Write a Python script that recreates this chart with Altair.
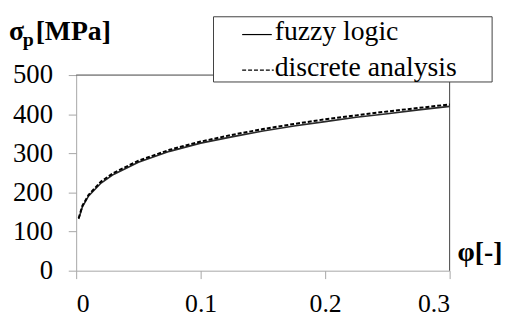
import altair as alt
import pandas as pd

# ---- data ----
phi = [0.002, 0.005, 0.01, 0.02, 0.03, 0.05, 0.075, 0.1, 0.125, 0.15,
       0.175, 0.2, 0.225, 0.25, 0.275, 0.3]
fuzzy = [132, 163, 191, 224, 246, 277, 305, 326, 342, 357,
         370, 381, 392, 401, 411, 420]
discrete = [134, 166, 194, 228, 250, 281, 309, 330, 347, 362,
            375, 387, 397, 407, 416, 425]
series_names = ["fuzzy logic", "discrete analysis"]
x_ticks = [0, 0.1, 0.2, 0.3]
y_ticks = [0, 100, 200, 300, 400, 500]

df = pd.DataFrame(
    {"phi": phi * 2,
     "sigma": fuzzy + discrete,
     "series": [series_names[0]] * len(phi) + [series_names[1]] * len(phi)}
)

W, H = 378, 198
FONT = "Liberation Serif"
AX = "#a6a6a6"
FRAME = "#404040"

x_enc = alt.X("phi:Q", scale=alt.Scale(domain=[0, 0.3], nice=False),
              axis=alt.Axis(values=x_ticks, format="~g", title=None,
                            labelPadding=12, labelFontSize=26))
y_enc = alt.Y("sigma:Q", scale=alt.Scale(domain=[0, 500], nice=False),
              axis=alt.Axis(values=y_ticks, title=None, labelPadding=16,
                            labelFontSize=27))

base = alt.Chart(df)
line_fuzzy = base.transform_filter(
    alt.datum.series == series_names[0]
).mark_line(color="#2a2a2a", strokeWidth=1.6).encode(x=x_enc, y=y_enc)
line_disc = base.transform_filter(
    alt.datum.series == series_names[1]
).mark_line(color="black", strokeWidth=2, strokeDash=[4, 2]).encode(x=x_enc, y=y_enc)

one = alt.Data(values=[{}])

frame_top = alt.Chart(one).mark_rule(color=FRAME, strokeWidth=1).encode(
    x=alt.value(0), x2=alt.value(W), y=alt.value(0))
frame_right = alt.Chart(one).mark_rule(color=FRAME, strokeWidth=1).encode(
    x=alt.value(W), y=alt.value(0), y2=alt.value(H))

legend_box = alt.Chart(one).mark_rect(fill="white", stroke=FRAME, strokeWidth=1).encode(
    x=alt.value(139), x2=alt.value(421), y=alt.value(-59), y2=alt.value(7))
leg_solid = alt.Chart(one).mark_rule(color="black", strokeWidth=1.2).encode(
    x=alt.value(168), x2=alt.value(198), y=alt.value(-41))
leg_dash = alt.Chart(one).mark_rule(color="black", strokeWidth=1.2, strokeDash=[4, 2]).encode(
    x=alt.value(168), x2=alt.value(200), y=alt.value(-5))


def txt(s, x, y, size=28, bold=False):
    return alt.Chart(one).mark_text(
        text=s, font=FONT, fontSize=size, fontWeight="bold" if bold else "normal",
        align="left", baseline="alphabetic", color="black"
    ).encode(x=alt.value(x), y=alt.value(y))


leg_t1 = txt(series_names[0], 201, -35)
leg_t2 = txt(series_names[1], 201, 1)

ytitle_a = txt("σ", -68, -35, bold=True)
ytitle_b = txt("p", -54, -29, size=20, bold=True)
ytitle_c = txt("[MPa]", -41, -35, bold=True)
xtitle = txt("φ[-]", 386, 188, bold=True)

chart = alt.layer(
    frame_top, frame_right, line_fuzzy, line_disc,
    legend_box, leg_solid, leg_dash, leg_t1, leg_t2,
    ytitle_a, ytitle_b, ytitle_c, xtitle,
).properties(
    width=W, height=H,
    autosize=alt.AutoSizeParams(type="none"),
    padding={"left": 69, "top": 66, "right": 53, "bottom": 46},
).configure_view(stroke=None).configure_axis(
    domainColor=AX, tickColor=AX, tickSize=8, grid=False,
    labelFont=FONT, labelColor="black", domainWidth=1,
)

chart.save("out.html", embed_options={"renderer": "svg", "actions": False})
